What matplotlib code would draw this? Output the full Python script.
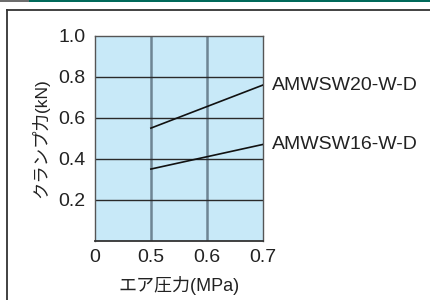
import matplotlib
matplotlib.use("Agg")
import matplotlib.pyplot as plt
from matplotlib.lines import Line2D
from matplotlib.patches import Rectangle
import numpy as np

plt.rcParams['font.family'] = ['Liberation Sans', 'Noto Sans CJK JP', 'DejaVu Sans']

# Data
series_names = ["AMWSW20-W-D", "AMWSW16-W-D"]
pressure = [0.5, 0.7]
force_20 = [0.55, 0.76]
force_16 = [0.35, 0.47]
x_ticks = [0, 0.5, 0.6, 0.7]
x_tick_labels = ["0", "0.5", "0.6", "0.7"]
y_ticks = [0.2, 0.4, 0.6, 0.8, 1.0]
y_tick_labels = ["0.2", "0.4", "0.6", "0.8", "1.0"]
xlabel = "エア圧力(MPa)"
ylabel = "クランプ力(kN)"

# piecewise axis: 0..0.5 compressed into one cell, then 0.1 per cell
def fwd(x):
    x = np.asarray(x, dtype=float)
    return np.where(x <= 0.5, x * 2.0, 1.0 + (x - 0.5) * 10.0)

def inv(u):
    u = np.asarray(u, dtype=float)
    return np.where(u <= 1.0, u / 2.0, 0.5 + (u - 1.0) / 10.0)

fig = plt.figure(figsize=(4.31, 3.0), dpi=100)
W, H = 431, 300

# top decorative bar
fig.patches.append(Rectangle((0, 1 - 2.2 / H), 29 / W, 2.2 / H, transform=fig.transFigure,
                             facecolor="#6d6d6d", edgecolor="none"))
fig.patches.append(Rectangle((29 / W, 1 - 2.2 / H), 1 - 29 / W, 2.2 / H, transform=fig.transFigure,
                             facecolor="#00695a", edgecolor="none"))
# outer frame (left and top visible)
fig.lines.append(Line2D([7.5 / W, 7.5 / W], [-0.02, 1 - 9.5 / H], transform=fig.transFigure,
                        color="#333333", lw=1.3))
fig.lines.append(Line2D([7.5 / W, 1.02], [1 - 9.5 / H, 1 - 9.5 / H], transform=fig.transFigure,
                        color="#333333", lw=1.3))

ax = fig.add_axes([95 / W, 1 - 240.7 / H, (262.7 - 95) / W, (240.7 - 36) / H])
ax.set_xscale('function', functions=(fwd, inv))
ax.set_xlim(0, 0.7)
ax.set_ylim(0, 1.0)
ax.set_facecolor("#c8e9f8")

for v in [0.5, 0.6]:
    ax.axvline(v, color="#6e8594", lw=1.8, zorder=1)
for v in y_ticks[:-1]:
    ax.axhline(v, color="#2a2a2a", lw=1.0, zorder=1.5)

for sp in ax.spines.values():
    sp.set_color("#555555")
    sp.set_linewidth(1.0)
ax.spines['bottom'].set_color("#333333")
ax.spines['bottom'].set_linewidth(1.3)

ax.plot(pressure, force_20, color="#111111", lw=1.2, zorder=3)
ax.plot(pressure, force_16, color="#111111", lw=1.2, zorder=3)

ax.set_xticks(x_ticks)
ax.set_xticklabels(x_tick_labels)
ax.set_yticks(y_ticks)
ax.set_yticklabels(y_tick_labels)
ax.xaxis.set_minor_locator(matplotlib.ticker.NullLocator())
ax.tick_params(axis='both', length=0, labelsize=14, colors="#222222")
ax.tick_params(axis='y', pad=7)
ax.tick_params(axis='x', pad=6)

ax.set_xlabel(xlabel, fontsize=13, color="#222222", labelpad=7)
ax.set_ylabel(ylabel, fontsize=12.5, color="#222222", labelpad=6)

ax.annotate(series_names[0], xy=(0.7, force_20[1]), xycoords='data',
            xytext=(7, 0), textcoords='offset points', fontsize=14,
            color="#222222", va='center', ha='left', annotation_clip=False)
ax.annotate(series_names[1], xy=(0.7, force_16[1]), xycoords='data',
            xytext=(7, 0), textcoords='offset points', fontsize=14,
            color="#222222", va='center', ha='left', annotation_clip=False)

fig.savefig("out.png", dpi=100)
